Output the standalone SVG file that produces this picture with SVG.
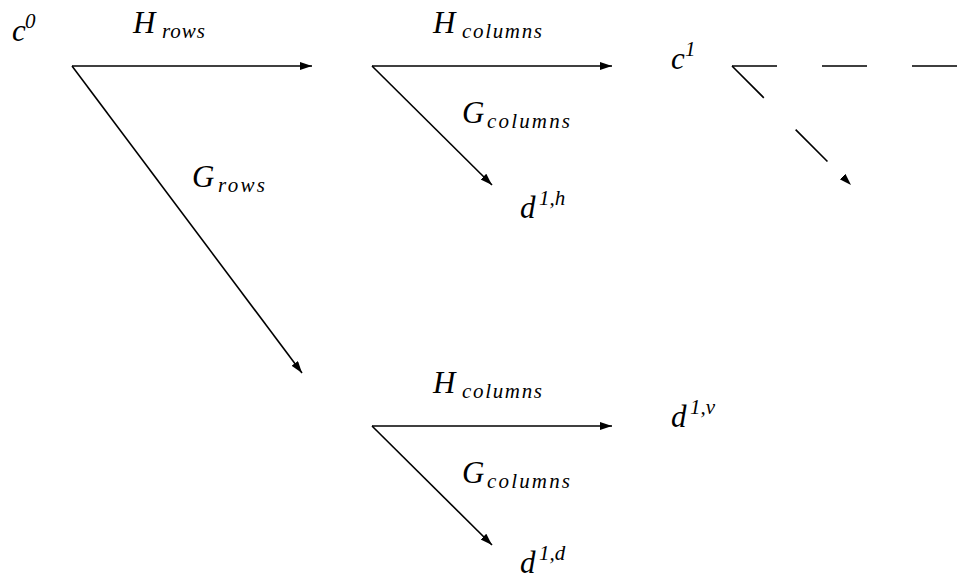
<svg xmlns="http://www.w3.org/2000/svg" width="961" height="579" viewBox="0 0 961 579">
<style>
.m{font-family:"Liberation Serif","DejaVu Serif",serif;font-style:italic;fill:#000}
.b{font-size:31px}
.s{font-size:21px}
.e{fill:none;stroke:#000;stroke-width:1.6}
.d{stroke-dasharray:45 45}
</style>
<defs>
<marker id="ah" markerUnits="userSpaceOnUse" markerWidth="13" markerHeight="9" refX="12" refY="4" orient="auto">
<path d="M0,0 L12,4 L0,8 Z" fill="#000"/>
</marker>
</defs>
<rect width="961" height="579" fill="#fff"/>
<g id="connectors">
<line class="e" x1="72" y1="66" x2="312" y2="66" marker-end="url(#ah)"/>
<line class="e" x1="72" y1="66" x2="302" y2="373" marker-end="url(#ah)"/>
<line class="e" x1="372" y1="66" x2="612" y2="66" marker-end="url(#ah)"/>
<line class="e" x1="372" y1="66" x2="492" y2="185" marker-end="url(#ah)"/>
<line class="e d" x1="732" y1="66" x2="961" y2="66"/>
<line class="e d" x1="732" y1="66" x2="851" y2="185" marker-end="url(#ah)"/>
<line class="e" x1="372" y1="426" x2="612" y2="426" marker-end="url(#ah)"/>
<line class="e" x1="372" y1="426" x2="492" y2="545" marker-end="url(#ah)"/>
</g>
<g id="c0"><text class="m b" x="12" y="41">c</text><text class="m s" x="25" y="28">0</text></g>
<g id="c1"><text class="m b" x="671" y="69">c</text><text class="m s" x="685" y="56">1</text></g>
<g id="d1h"><text class="m b" x="520" y="218">d</text><text class="m s" x="539" y="205">1,h</text></g>
<g id="d1v"><text class="m b" x="671" y="427">d</text><text class="m s" x="690" y="414">1,v</text></g>
<g id="d1d"><text class="m b" x="520" y="573">d</text><text class="m s" x="539" y="560">1,d</text></g>
<g id="label-hrows"><text class="m b" x="133" y="33">H</text><text class="m s" x="162" y="38" textLength="43" lengthAdjust="spacing">rows</text></g>
<g id="label-grows"><text class="m b" x="192" y="187">G</text><text class="m s" x="218" y="192" textLength="47" lengthAdjust="spacing">rows</text></g>
<g id="label-hcol1"><text class="m b" x="433" y="33">H</text><text class="m s" x="462" y="38" textLength="80" lengthAdjust="spacing">columns</text></g>
<g id="label-gcol1"><text class="m b" x="462" y="123">G</text><text class="m s" x="487" y="128" textLength="83" lengthAdjust="spacing">columns</text></g>
<g id="label-hcol2"><text class="m b" x="433" y="393">H</text><text class="m s" x="462" y="398" textLength="80" lengthAdjust="spacing">columns</text></g>
<g id="label-gcol2"><text class="m b" x="462" y="483">G</text><text class="m s" x="487" y="488" textLength="83" lengthAdjust="spacing">columns</text></g>
</svg>
